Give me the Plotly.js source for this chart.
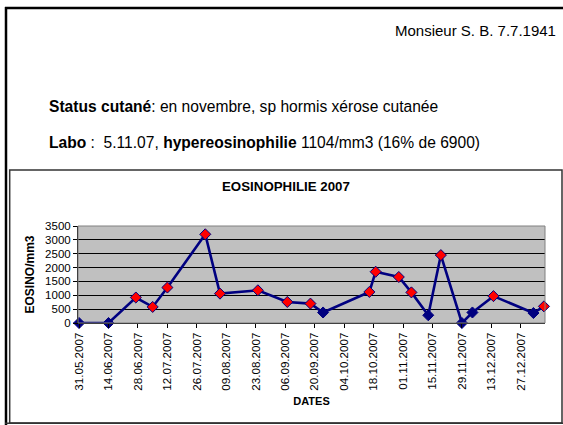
<!DOCTYPE html>
<html>
<head>
<meta charset="utf-8">
<script src="https://cdn.plot.ly/plotly-3.0.1.min.js"></script>
<style>html,body{margin:0;padding:0;background:#fff;}#chart{width:563px;height:425px;}</style>
</head>
<body>
<div id="chart"></div>
<script>
// ---- data ----
var dates = ["2007-05-31","2007-06-14","2007-06-27","2007-07-05","2007-07-12","2007-07-30","2007-08-06","2007-08-24","2007-09-07","2007-09-18","2007-09-24","2007-10-16","2007-10-19","2007-10-30","2007-11-05","2007-11-13","2007-11-19","2007-11-29","2007-12-04","2007-12-14","2008-01-02","2008-01-07"];
var eosino = [0,0,920,580,1280,3200,1060,1180,760,700,380,1120,1850,1660,1104,280,2450,0,380,970,360,600];
var tickLabels = ["31.05.2007","14.06.2007","28.06.2007","12.07.2007","26.07.2007","09.08.2007","23.08.2007","06.09.2007","20.09.2007","04.10.2007","18.10.2007","01.11.2007","15.11.2007","29.11.2007","13.12.2007","27.12.2007"];
var yTicks = [0,500,1000,1500,2000,2500,3000,3500];
var threshold = 500;

function lblToDate(s){var p=s.split('.');return p[2]+'-'+p[1]+'-'+p[0];}
var tickVals = tickLabels.map(lblToDate);

// plot area in pixels
var W=563,H=425,L=78,R=545,T=226,B=323;
function px(x){return (x-L)/(R-L);}
function py(y){return (B-y)/(B-T);}

var NAVY='#000080';
var markerColors = eosino.map(function(v){return v<threshold?NAVY:'#FF0000';});

var trace = {
  x: dates, y: eosino, type:'scatter', mode:'lines+markers',
  line:{color:NAVY,width:2.6},
  marker:{symbol:'diamond',size:8.5,color:markerColors,line:{color:NAVY,width:1}},
  cliponaxis:false, hoverinfo:'none'
};

var font='"Liberation Sans", Arial, sans-serif';
var layout = {
  width:W,height:H,
  margin:{l:L,r:W-R,t:T,b:H-B,pad:0},
  paper_bgcolor:'#ffffff', plot_bgcolor:'#C0C0C0',
  showlegend:false,
  font:{family:font,color:'#000'},
  xaxis:{
    type:'date', range:['2007-05-30 12:00','2008-01-07 12:00'],
    tickmode:'array', tickvals:tickVals, ticktext:tickLabels, tickangle:-90,
    ticks:'outside', ticklen:4, tickcolor:'#000', tickwidth:1,
    showgrid:false, zeroline:false, showline:true, linecolor:'#000', linewidth:1,
    tickfont:{family:font,size:11.6,color:'#000'},
    title:{text:'<b>DATES</b>',font:{family:font,size:11,color:'#000'},standoff:7}
  },
  yaxis:{
    range:[0,3500], tickmode:'array', tickvals:yTicks,
    ticks:'outside', ticklen:4, tickcolor:'#000', tickwidth:1,
    showgrid:true, gridcolor:'#000', gridwidth:1, zeroline:false,
    showline:true, linecolor:'#000', linewidth:1,
    tickfont:{family:font,size:11.5,color:'#000'},
    title:{text:'<b>EOSINO/mm3</b>',font:{family:font,size:12,color:'#000'},standoff:7}
  },
  shapes:[
    // plot area border
    {type:'rect',xref:'paper',yref:'paper',x0:0,x1:1,y0:0,y1:1,line:{color:'#808080',width:1}},
    // outer frame (black)
    {type:'line',xref:'paper',yref:'paper',x0:px(5),x1:px(563),y0:py(8),y1:py(8),line:{color:'#000',width:2.5}},
    {type:'line',xref:'paper',yref:'paper',x0:px(6),x1:px(6),y0:py(7),y1:py(425),line:{color:'#000',width:2.5}},
    // chart box
    {type:'rect',xref:'paper',yref:'paper',x0:px(9.7),x1:px(562),y0:py(170),y1:py(423),line:{color:'#333',width:1.5}},
    {type:'line',xref:'paper',yref:'paper',x0:px(5),x1:px(563),y0:py(423.3),y1:py(423.3),line:{color:'#333',width:1.5}}
  ],
  annotations:[
    {xref:'paper',yref:'paper',x:px(558),y:py(30),xanchor:'right',yanchor:'middle',showarrow:false,
     text:'Monsieur S. B. 7.7.1941',font:{family:font,size:15,color:'#000'}},
    {xref:'paper',yref:'paper',x:px(47),y:py(106),xanchor:'left',yanchor:'middle',showarrow:false,
     text:'<b>Status cutané</b>: en novembre, sp hormis xérose cutanée',font:{family:font,size:15.6,color:'#000'}},
    {xref:'paper',yref:'paper',x:px(47),y:py(142),xanchor:'left',yanchor:'middle',showarrow:false,
     text:'<b>Labo</b> :\u00a0 5.11.07, <b>hypereosinophilie</b> 1104/mm3 (16% de 6900)',font:{family:font,size:15.6,color:'#000'}},
    {xref:'paper',yref:'paper',x:px(286),y:py(186.5),xanchor:'center',yanchor:'middle',showarrow:false,
     text:'<b>EOSINOPHILIE 2007</b>',font:{family:font,size:13.3,color:'#000'}}
  ]
};

Plotly.newPlot('chart',[trace],layout,{staticPlot:true,displayModeBar:false});
</script>
</body>
</html>
